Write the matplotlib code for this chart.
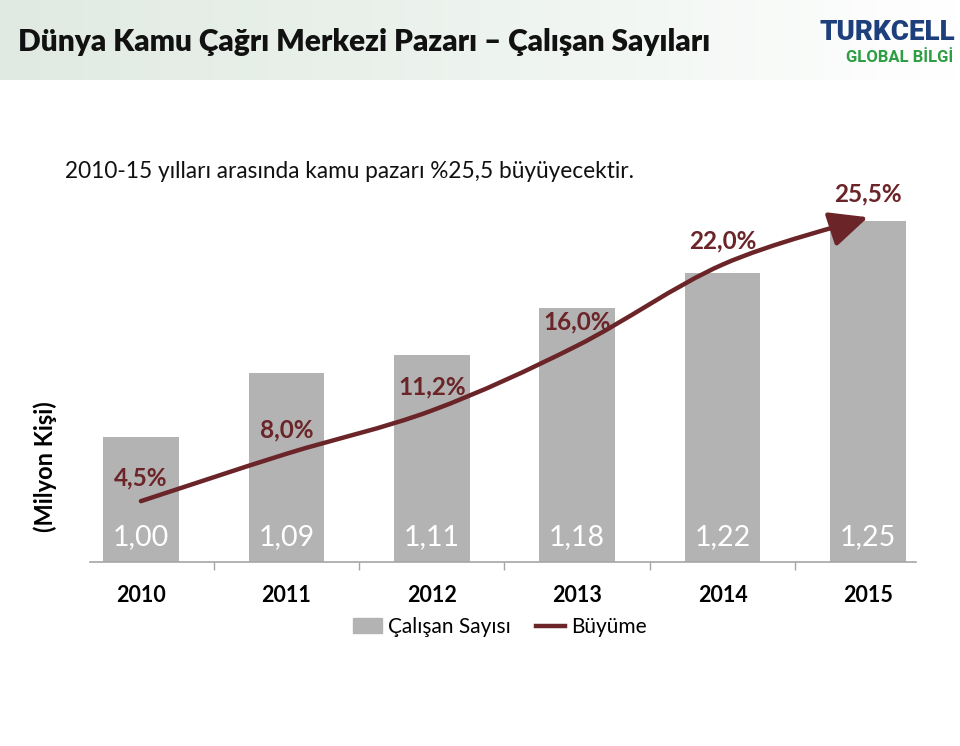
import matplotlib
matplotlib.use("Agg")
import matplotlib.pyplot as plt
import numpy as np
from matplotlib.path import Path
from matplotlib.patches import FancyArrowPatch, Patch
from matplotlib.lines import Line2D
from matplotlib.colors import LinearSegmentedColormap

plt.rcParams["font.family"] = ["Lato", "DejaVu Sans"]

YILLAR = ["2010", "2011", "2012", "2013", "2014", "2015"]
CALISAN_ETIKET = ["1,00", "1,09", "1,11", "1,18", "1,22", "1,25"]
# çubuk boyları (orijinalde değerle orantılı değil)
CUBUK_BOY = [125, 189, 207, 254, 289, 341]
BUYUME = [4.5, 8.0, 11.2, 16.0, 22.0, 25.5]
BUYUME_ETIKET = ["4,5%", "8,0%", "11,2%", "16,0%", "22,0%", "25,5%"]

GRI = "#b3b3b3"
BORDO = "#6b2428"
W, H = 960, 746

fig = plt.figure(figsize=(W / 100, H / 100), dpi=100)

# başlık bandı (soldan sağa açılan yeşilimsi gri)
band = fig.add_axes([0, 1 - 80 / H, 1, 80 / H], zorder=0)
grad = np.linspace(0, 1, 256)[None, :]
cmap = LinearSegmentedColormap.from_list("band", ["#e0eae2", "#edf3ee", "#ffffff"])
band.imshow(grad, aspect="auto", cmap=cmap, extent=[0, 1, 0, 1])
band.axis("off")


def px(x, y):
    return x / W, 1 - y / H


fig.text(*px(18, 42), "Dünya Kamu Çağrı Merkezi Pazarı – Çalışan Sayıları",
         fontsize=21.5, fontweight="heavy", va="center", ha="left", color="#111111")
fig.text(*px(955, 33), "TURKCELL", fontsize=20, fontweight="heavy", color="#1d3f7c",
         ha="right", va="center", family=["Roboto", "DejaVu Sans"])
fig.text(*px(953, 57), "GLOBAL BİLGİ", fontsize=12, fontweight="bold", color="#2e9e44",
         ha="right", va="center", family=["Roboto", "DejaVu Sans"])
fig.text(*px(65, 172), "2010-15 yılları arasında kamu pazarı %25,5 büyüyecektir.",
         fontsize=16.3, va="center", ha="left", color="#111111")
fig.text(*px(45, 467), "(Milyon Kişi)", fontsize=17, fontweight="bold",
         rotation=90, va="center", ha="center")

ax = fig.add_axes([90 / W, (H - 562) / H, 826 / W, 412 / H])
x = np.arange(len(YILLAR))
ax.bar(x, CUBUK_BOY, width=0.52, color=GRI, zorder=1)
ax.set_xlim(-0.35, 5.33)
ax.set_ylim(0, 412)
for s in ("top", "right", "left"):
    ax.spines[s].set_visible(False)
ax.spines["bottom"].set_color("#a6a6a6")
ax.spines["bottom"].set_linewidth(1.2)
ax.set_yticks([])
ax.set_xticks(np.arange(0.5, 5, 1))
ax.set_xticklabels([])
ax.tick_params(axis="x", length=6, color="#a6a6a6", width=1)
for xi, yil in zip(x, YILLAR):
    ax.text(xi, -33, yil, ha="center", va="center", fontsize=15.5, fontweight="bold")
for xi, lab in zip(x, CALISAN_ETIKET):
    ax.text(xi, 25, lab, ha="center", va="center", fontsize=20.5, color="white")

ax2 = ax.twinx()
ax2.set_ylim(0, 412 / 13.52)
ax2.axis("off")

# Excel tarzı yumuşatılmış çizgi: Catmull-Rom -> kübik Bezier
pts = np.column_stack([x, BUYUME]).astype(float)
ext = np.vstack([pts[0], pts, pts[-1]])
verts = [tuple(pts[0])]
codes = [Path.MOVETO]
for i in range(len(pts) - 1):
    p0, p1, p2, p3 = ext[i], ext[i + 1], ext[i + 2], ext[i + 3]
    c1 = p1 + (p2 - p0) / 6
    c2 = p2 - (p3 - p1) / 6
    verts += [tuple(c1), tuple(c2), tuple(p2)]
    codes += [Path.CURVE4] * 3
arrow = FancyArrowPatch(path=Path(verts, codes),
                        arrowstyle="-|>,head_length=1.3,head_width=0.6",
                        mutation_scale=18, color=BORDO, lw=3.2, zorder=3)
ax2.add_patch(arrow)
for xi, g, lab in zip(x, BUYUME, BUYUME_ETIKET):
    ax2.annotate(lab, (xi, g), xytext=(0, 17), textcoords="offset points",
                 ha="center", va="center", fontsize=17.5, fontweight="bold", color=BORDO)

handles = [Patch(color=GRI), Line2D([], [], color=BORDO, lw=3.2)]
fig.legend(handles, ["Çalışan Sayısı", "Büyüme"], loc="center",
           bbox_to_anchor=px(500, 627), ncol=2, frameon=False, fontsize=15,
           handlelength=1.4, handletextpad=0.3, columnspacing=1.2)

fig.savefig("out.png", dpi=100)
